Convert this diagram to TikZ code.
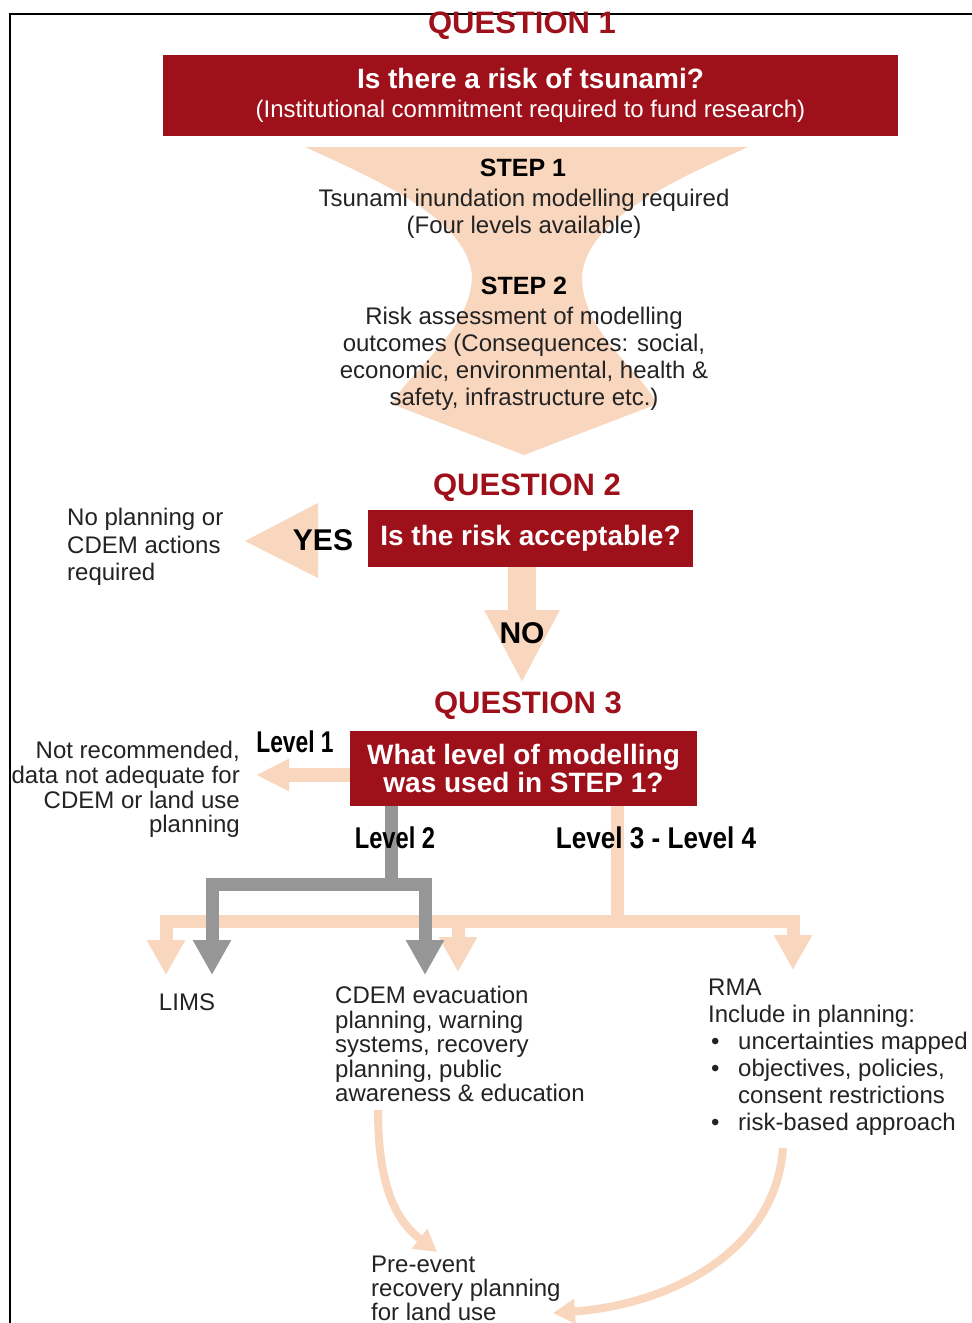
\documentclass[tikz,border=0pt]{standalone}
\usepackage{fontspec}
\usepackage{graphicx}
\setmainfont{Liberation Sans}
\usetikzlibrary{arrows.meta}
\definecolor{qred}{RGB}{158,16,26}
\definecolor{peach}{RGB}{249,214,190}
\definecolor{arrgray}{RGB}{150,150,150}
\definecolor{ink}{RGB}{35,35,35}
\newcommand{\fsz}[2]{\fontsize{#1}{#2}\selectfont}
\newcommand{\cond}[2]{\scalebox{#1}[1]{#2}}
\begin{document}
\begin{tikzpicture}[x=1pt,y=-1pt,
  redbox/.style={fill=qred, text=white, inner sep=0pt, font=\bfseries\fsz{28}{28}, align=center},
  qtitle/.style={text=qred, font=\bfseries\fsz{31}{31}, inner sep=0pt},
  body/.style={text=ink, font=\fsz{24}{27}, inner sep=0pt},
  stepttl/.style={text=black, font=\bfseries\fsz{25}{25}, inner sep=0pt},
  bigword/.style={text=black, font=\bfseries\fsz{30}{30}, inner sep=0pt},
  lvl/.style={text=black, font=\bfseries\fsz{30}{30}, inner sep=0pt},
  peachline/.style={draw=peach, line width=13pt},
  grayline/.style={draw=arrgray, line width=13pt},
  bigtip/.style={-{Triangle[width=36pt,length=35pt]}},
  curvearrow/.style={draw=peach, line width=8pt, -{Triangle[width=24pt,length=22pt]}}
]
\useasboundingbox (0,0) rectangle (972,1323);
\fill[white] (0,0) rectangle (972,1323);

% frame
\draw[line width=2pt, black] (10,1323) -- (10,14) -- (972,14);

% funnel
\fill[peach] (305,147) -- (748,147)
  .. controls (675,180) and (588,218) .. (582,275)
  .. controls (580,330) and (640,370) .. (657,404)
  -- (524,455) -- (392,404)
  .. controls (410,370) and (472,330) .. (472,275)
  .. controls (466,218) and (377,180) .. (305,147) -- cycle;

% Question 1
\node[qtitle] (q1t) at (522,26) {QUESTION 1};
\node[redbox, minimum width=735pt, minimum height=81pt] (q1) at (530.5,95.5)
  {Is there a risk of tsunami?\\[1pt]{\mdseries\fsz{24}{24}(Institutional commitment required to fund research)}};

% steps
\node[stepttl] (s1t) at (523,168) {STEP 1};
\node[body, align=center, anchor=north] (s1) at (524,189)
  {Tsunami inundation modelling required\\(Four levels available)};
\node[stepttl] (s2t) at (524,286) {STEP 2};
\node[body, align=center, anchor=north] (s2) at (524,307)
  {Risk assessment of modelling\\outcomes (Consequences: social,\\economic, environmental, health \&\\safety, infrastructure etc.)};

% Question 2
\node[qtitle] (q2t) at (527,488) {QUESTION 2};
\node[redbox, minimum width=325pt, minimum height=57pt] (q2) at (530.5,538.5) {Is the risk acceptable?};
\coordinate (yestip) at (245,541);
\fill[peach] (yestip) -- (318,503) -- (318,578) -- cycle;
\node[bigword] (yes) at (323,540) {YES};
\node[body, align=left, anchor=north west, font=\fsz{24}{27.5}] (noplan) at (67,508)
  {No planning or\\CDEM actions\\required};

\coordinate (notip) at (522,683);
\draw[peachline, line width=28pt, -{Triangle[width=70pt,length=73pt]}] (q2.south -| notip) -- (notip);
\node[bigword] (no) at (522,633) {NO};

% Question 3
\node[qtitle] (q3t) at (528,706) {QUESTION 3};
\node[redbox, minimum width=347pt, minimum height=75pt] (q3) at (523.5,768.5)
  {What level of modelling\\was used in STEP 1?};

\coordinate (l1tip) at (256,775);
\draw[peachline, line width=14pt, -{Triangle[width=30pt,length=33pt]}] (q3.west |- l1tip) -- (l1tip);
\node[lvl] (lv1) at (295,742) {\cond{0.76}{Level 1}};
\node[body, align=right, anchor=north east, font=\fsz{24}{24.7}] (notrec) at (240,741)
  {Not recommended,\\data not adequate for\\CDEM or land use\\planning};

% peach branches (levels 3-4)
\coordinate (psplit) at (617,921);
\coordinate (ptipA) at (166,975);
\coordinate (ptipB) at (458,972);
\coordinate (ptipC) at (793,970);
\draw[peachline] (q3.south -| psplit) -- (psplit);
\draw[peachline, bigtip] (psplit) -| (ptipA);
\draw[peachline, bigtip] (psplit) -| (ptipB);
\draw[peachline, bigtip] (psplit) -| (ptipC);

% gray branches (level 2)
\coordinate (gsplit) at (391,884);
\coordinate (gtipA) at (212,975);
\coordinate (gtipB) at (425,975);
\draw[grayline] (q3.south -| gsplit) -- (gsplit);
\draw[grayline, bigtip] (gsplit) -| (gtipA);
\draw[grayline, bigtip] (gsplit) -| (gtipB);

% level labels on top of the branches
\node[lvl] (lv2) at (395,838) {\cond{0.79}{Level 2}};
\node[lvl] (lv34) at (656,838) {\cond{0.87}{Level 3 - Level 4}};

% outcomes
\node[body] (lims) at (187,1002) {LIMS};
\node[body, align=left, anchor=north west, font=\fsz{24}{24.5}] (cdem) at (335,986)
  {CDEM evacuation\\planning, warning\\systems, recovery\\planning, public\\awareness \& education};
\node[body, align=left, anchor=north west, font=\fsz{24}{27}] (rma) at (708,979)
  {RMA\\Include in planning:\\\hspace*{3pt}\makebox[27pt][l]{\textbullet}uncertainties mapped\\\hspace*{3pt}\makebox[27pt][l]{\textbullet}objectives, policies,\\\hspace*{30pt}consent restrictions\\\hspace*{3pt}\makebox[27pt][l]{\textbullet}risk-based approach};
\node[body, align=left, anchor=north west, font=\fsz{24}{24}] (pre) at (371,1256)
  {Pre-event\\recovery planning\\for land use};

\coordinate (cdemout) at (378,1110);
\coordinate (prein) at (437,1252);
\coordinate (rmaout) at (783,1148);
\coordinate (preright) at (553,1313);
\draw[curvearrow] (cdemout) .. controls (378,1190) and (398,1222) .. (prein);
\draw[curvearrow] (rmaout) .. controls (775,1255) and (665,1305) .. (preright);
\end{tikzpicture}
\end{document}
